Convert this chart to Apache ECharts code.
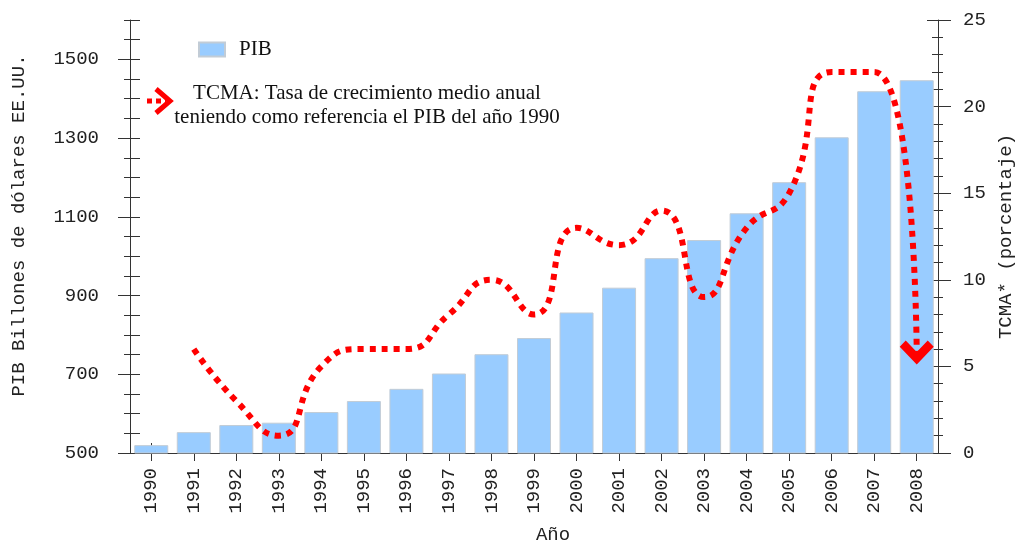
<!DOCTYPE html>
<html><head><meta charset="utf-8">
<script src="https://cdn.jsdelivr.net/npm/echarts@6/dist/echarts.min.js"></script>
<style>html,body{margin:0;padding:0;background:#fff}#c{width:1015px;height:541px}</style>
</head><body><div id="c"></div>
<script>
const years = ['1990','1991','1992','1993','1994','1995','1996','1997','1998','1999','2000','2001','2002','2003','2004','2005','2006','2007','2008'];
const pib = [520,553,571,577,604,632,663,702,751,792,857,920,995,1041,1109,1188,1302,1419,1447];
const tcma = [null,6,3,1,5,6,6,8,10,8,13,12,14,9,13,15,22,22,5.8];
const leftTicks = [500,700,900,1100,1300,1500];
const rightTicks = [0,5,10,15,20,25];
const legendLines = ['TCMA: Tasa de crecimiento medio anual','teniendo como referencia el PIB del año 1990'];

const MONO = 'Liberation Mono';
const SERIF = 'Liberation Serif';
const AX = '#333';
const ARROW = 'path://M0,6 L6,0 L17,11 L28,0 L34,6 L17,23 Z';

const tcmaData = tcma.map((v,i)=> (v===null ? '-' : (i===tcma.length-1 ? {value:v, symbol:ARROW, symbolSize:[34,24]} : v)));

const chart = echarts.init(document.getElementById('c'), null, {renderer:'canvas'});
const labelStyle = {fontFamily:MONO, fontSize:19, color:'#222'};
const plain = v => String(v);
chart.setOption({
  animation:false,
  backgroundColor:'#fff',
  grid:{left:130, right:77, top:20, bottom:88, outerBoundsMode:'none', containLabel:false},
  legend:{data:['PIB'], left:193, top:34, itemWidth:26, itemHeight:14, selectedMode:false, icon:'rect',
    textStyle:{fontFamily:SERIF, fontSize:21, color:'#111', padding:[0,0,0,9]}},
  graphic:[
    {type:'text', x:367, y:105, silent:true, style:{text:legendLines.join('\n'), font:'21px "Liberation Serif"', textAlign:'center', textVerticalAlign:'middle', lineHeight:24, fill:'#111'}},
    {type:'polyline', silent:true, shape:{points:[[147,101],[166,101]]}, style:{stroke:'#ff0000', lineWidth:5, lineDash:[5,4], fill:null}},
    {type:'polyline', silent:true, shape:{points:[[156,89],[170,101],[156,113]]}, style:{stroke:'#ff0000', lineWidth:5, fill:null}}
  ],
  xAxis:[
    {type:'category', data:years, position:'bottom', boundaryGap:true,
     axisLine:{show:true, lineStyle:{color:AX}}, axisTick:{show:true, alignWithLabel:true, length:8, lineStyle:{color:AX}},
     axisLabel:{rotate:90, margin:15, interval:0, ...labelStyle},
     name:'Año', nameLocation:'middle', nameGap:72, nameTextStyle:{...labelStyle, padding:[0,0,0,38]}},
    {type:'category', data:years, position:'bottom', boundaryGap:true,
     axisLine:{show:false}, axisTick:{show:true, inside:true, alignWithLabel:true, length:10, lineStyle:{color:AX}},
     axisLabel:{show:false}}
  ],
  yAxis:[
    {type:'value', position:'left', min:500, max:1600, interval:50,
     axisLine:{show:true, lineStyle:{color:AX}},
     axisTick:{show:true, length:12, customValues:leftTicks, lineStyle:{color:AX}},
     axisLabel:{customValues:leftTicks, margin:31, formatter:plain, ...labelStyle},
     splitLine:{show:false},
     name:'PIB Billones de dólares EE.UU.', nameLocation:'middle', nameRotate:90, nameGap:102, nameTextStyle:{...labelStyle, padding:[0,0,0,22]}},
    {type:'value', position:'left', min:500, max:1600, interval:50,
     axisLine:{show:false}, axisTick:{show:true, length:6, lineStyle:{color:AX}}, axisLabel:{show:false}, splitLine:{show:false}},
    {type:'value', position:'left', min:500, max:1600, interval:50,
     axisLine:{show:false}, axisTick:{show:true, inside:true, length:10, lineStyle:{color:AX}}, axisLabel:{show:false}, splitLine:{show:false}},
    {type:'value', position:'right', min:0, max:25, interval:5,
     axisLine:{show:true, lineStyle:{color:AX}},
     axisTick:{show:true, length:13, customValues:rightTicks, lineStyle:{color:AX}},
     minorTick:{show:true, splitNumber:5, length:5, lineStyle:{color:AX}},
     axisLabel:{customValues:rightTicks, margin:25, formatter:plain, ...labelStyle},
     splitLine:{show:false}, minorSplitLine:{show:false},
     name:'TCMA* (porcentaje)', nameLocation:'middle', nameRotate:90, nameGap:58, nameTextStyle:{...labelStyle}},
    {type:'value', position:'right', min:0, max:25, interval:5,
     axisLine:{show:false}, axisTick:{show:true, inside:true, length:11, lineStyle:{color:AX}},
     minorTick:{show:true, splitNumber:5, length:6, lineStyle:{color:AX}},
     axisLabel:{show:false}, splitLine:{show:false}}
  ],
  series:[
    {name:'PIB', type:'bar', xAxisIndex:0, yAxisIndex:0, data:pib, barCategoryGap:'20%',
     itemStyle:{color:'#99ccff', borderColor:'#c2ccd6', borderWidth:1}},
    {name:'TCMA', type:'line', xAxisIndex:0, yAxisIndex:3, data:tcmaData, smooth:0.55, symbol:'none',
     itemStyle:{color:'#ff0000'},
     lineStyle:{color:'#ff0000', width:6, type:[6,6], cap:'butt'}, z:5}
  ]
});
</script></body></html>
